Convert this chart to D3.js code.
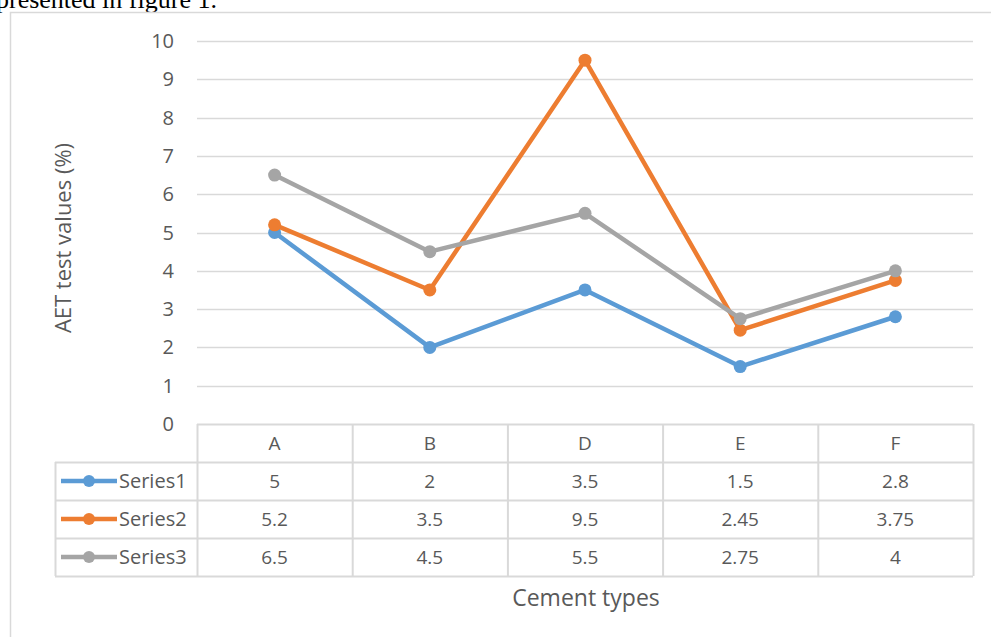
<!DOCTYPE html>
<html>
<head>
<meta charset="utf-8">
<script src="https://cdn.jsdelivr.net/npm/d3@7"></script>
<style>
  body { margin: 0; background: #fff; }
  svg { display: block; }
</style>
</head>
<body>
<svg id="chart" width="991" height="637"></svg>
<script>
// data
const categories = ["A", "B", "D", "E", "F"];
const seriesNames = ["Series1", "Series2", "Series3"];
const series1 = [5, 2, 3.5, 1.5, 2.8];
const series2 = [5.2, 3.5, 9.5, 2.45, 3.75];
const series3 = [6.5, 4.5, 5.5, 2.75, 4];
const seriesLabels = [
  ["5", "2", "3.5", "1.5", "2.8"],
  ["5.2", "3.5", "9.5", "2.45", "3.75"],
  ["6.5", "4.5", "5.5", "2.75", "4"]
];
const yTicks = [0, 1, 2, 3, 4, 5, 6, 7, 8, 9, 10];
const colors = ["#5B9BD5", "#ED7D31", "#A5A5A5"];

const allSeries = [series1, series2, series3];

const svg = d3.select("#chart");
const font = "'Open Sans', sans-serif";
const textColor = "#595959";
const gridColor = "#d9d9d9";

const plotLeft = 197, plotRight = 973, plotTop = 41, plotBottom = 424;
const rowH = 38;

// text above the chart (cut off at the top of the page)
svg.append("text")
  .attr("x", -4)
  .attr("y", 8)
  .attr("fill", "#000")
  .style("font-family", "'Liberation Serif', serif")
  .style("font-size", "26px")
  .text("presented in figure 1.");

// chart frame
svg.append("path")
  .attr("d", `M10.5,637 V12.5 H991`)
  .attr("fill", "none")
  .attr("stroke", gridColor)
  .attr("stroke-width", 1.5);

const x = d3.scaleBand().domain(categories).range([plotLeft, plotRight]);
const y = d3.scaleLinear().domain([0, 10]).range([plotBottom, plotTop]);

// gridlines
svg.append("g")
  .selectAll("line")
  .data(yTicks.filter(d => d > 0))
  .join("line")
  .attr("x1", plotLeft).attr("x2", plotRight)
  .attr("y1", d => Math.round(y(d)) + 0.5)
  .attr("y2", d => Math.round(y(d)) + 0.5)
  .attr("stroke", gridColor)
  .attr("stroke-width", 1.5);

// y tick labels
svg.append("g")
  .selectAll("text")
  .data(yTicks)
  .join("text")
  .attr("x", 174)
  .attr("y", d => y(d))
  .attr("dy", "0.35em")
  .attr("text-anchor", "end")
  .attr("fill", textColor)
  .style("font-family", font)
  .style("font-size", "20px")
  .text(d => d);

// y axis title
svg.append("text")
  .attr("transform", `translate(71,238) rotate(-90)`)
  .attr("text-anchor", "middle")
  .attr("fill", textColor)
  .style("font-family", font)
  .style("font-size", "22px")
  .text("AET test values (%)");

// data table
const table = svg.append("g");
const tableLeft = 55;
const tableBottom = plotBottom + rowH * 4;

// horizontal lines
table.append("line")
  .attr("x1", plotLeft).attr("x2", plotRight)
  .attr("y1", plotBottom + 0.5).attr("y2", plotBottom + 0.5)
  .attr("stroke", gridColor).attr("stroke-width", 2);
table.selectAll(".hrow")
  .data([1, 2, 3, 4])
  .join("line")
  .attr("x1", tableLeft).attr("x2", plotRight)
  .attr("y1", d => plotBottom + rowH * d + 0.5)
  .attr("y2", d => plotBottom + rowH * d + 0.5)
  .attr("stroke", gridColor).attr("stroke-width", 2);

// vertical lines
table.selectAll(".vcol")
  .data(categories.map(c => x(c)).concat([plotRight]))
  .join("line")
  .attr("x1", d => d + 0.5).attr("x2", d => d + 0.5)
  .attr("y1", plotBottom).attr("y2", tableBottom)
  .attr("stroke", gridColor).attr("stroke-width", 2);
table.append("line")
  .attr("x1", tableLeft + 0.5).attr("x2", tableLeft + 0.5)
  .attr("y1", plotBottom + rowH).attr("y2", tableBottom)
  .attr("stroke", gridColor).attr("stroke-width", 2);

// category labels
table.selectAll(".cat")
  .data(categories)
  .join("text")
  .attr("x", d => x(d) + x.bandwidth() / 2)
  .attr("y", plotBottom + rowH / 2)
  .attr("dy", "0.35em")
  .attr("text-anchor", "middle")
  .attr("fill", textColor)
  .style("font-family", font)
  .style("font-size", "19px")
  .text(d => d);

// series rows
seriesNames.forEach((name, i) => {
  const cy = plotBottom + rowH * (i + 1) + rowH / 2;
  table.append("line")
    .attr("x1", 61).attr("x2", 117)
    .attr("y1", cy).attr("y2", cy)
    .attr("stroke", colors[i])
    .attr("stroke-width", 4.5);
  table.append("circle")
    .attr("cx", 89).attr("cy", cy).attr("r", 6)
    .attr("fill", colors[i]);
  table.append("text")
    .attr("x", 119).attr("y", cy)
    .attr("dy", "0.35em")
    .attr("fill", textColor)
    .style("font-family", font)
    .style("font-size", "20px")
    .text(name);
  table.selectAll(".val" + i)
    .data(seriesLabels[i])
    .join("text")
    .attr("x", (d, j) => x(categories[j]) + x.bandwidth() / 2)
    .attr("y", cy)
    .attr("dy", "0.35em")
    .attr("text-anchor", "middle")
    .attr("fill", textColor)
    .style("font-family", font)
    .style("font-size", "19px")
    .text(d => d);
});

// x axis title
svg.append("text")
  .attr("x", 586)
  .attr("y", 606)
  .attr("text-anchor", "middle")
  .attr("fill", textColor)
  .style("font-family", font)
  .style("font-size", "23px")
  .text("Cement types");

// lines and markers
const line = d3.line()
  .x((d, j) => x(categories[j]) + x.bandwidth() / 2)
  .y(d => y(d));

allSeries.forEach((vals, i) => {
  svg.append("path")
    .datum(vals)
    .attr("d", line)
    .attr("fill", "none")
    .attr("stroke", colors[i])
    .attr("stroke-width", 4.5)
    .attr("stroke-linejoin", "round")
    .attr("stroke-linecap", "round");
  svg.append("g")
    .selectAll("circle")
    .data(vals)
    .join("circle")
    .attr("cx", (d, j) => x(categories[j]) + x.bandwidth() / 2)
    .attr("cy", d => y(d))
    .attr("r", 6.5)
    .attr("fill", colors[i]);
});
</script>
</body>
</html>
